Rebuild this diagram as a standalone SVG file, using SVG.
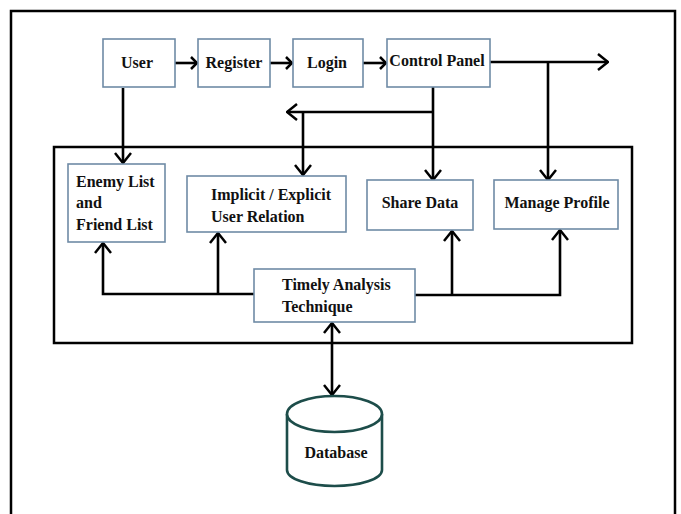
<svg xmlns="http://www.w3.org/2000/svg" width="681" height="514" viewBox="0 0 681 514">
<defs>
<style>
.box{fill:#fff;stroke:#6f8ba6;stroke-width:1.6}
.frame{fill:none;stroke:#000;stroke-width:2.5}
.ln{fill:none;stroke:#000;stroke-width:2.6}
.t{font-family:"Liberation Serif","Times New Roman",serif;font-weight:bold;font-size:16px;fill:#111}
.c{text-anchor:middle}
.db{fill:#fff;stroke:#1d4d4a;stroke-width:2.6}
</style>
<marker id="arr" viewBox="0 0 12 18" refX="11" refY="9" markerWidth="12" markerHeight="18" markerUnits="userSpaceOnUse" orient="auto-start-reverse">
<path d="M1,1 L11,9 L1,17" fill="none" stroke="#000" stroke-width="2.5"/>
</marker>
<marker id="arrs" viewBox="0 0 8 14" refX="7" refY="7" markerWidth="8" markerHeight="14" markerUnits="userSpaceOnUse" orient="auto">
<path d="M1,1 L7,7 L1,13" fill="none" stroke="#000" stroke-width="2.5"/>
</marker>
</defs>
<rect width="681" height="514" fill="#fff"/>
<rect class="frame" x="11" y="11" width="664" height="520"/>
<rect class="frame" x="54" y="147" width="578" height="196"/>

<g id="connectors">
<path class="ln" d="M175,63 H197" marker-end="url(#arrs)"/>
<path class="ln" d="M270,63 H292" marker-end="url(#arrs)"/>
<path class="ln" d="M363,63 H386" marker-end="url(#arrs)"/>
<path class="ln" d="M490,62 H608" marker-end="url(#arr)"/>
<path class="ln" d="M548,62 V180" marker-end="url(#arr)"/>
<path class="ln" d="M433,87 V180" marker-end="url(#arr)"/>
<path class="ln" d="M433,112 H287" marker-end="url(#arr)"/>
<path class="ln" d="M303,112 V175" marker-end="url(#arr)"/>
<path class="ln" d="M123,88 V163" marker-end="url(#arr)"/>
<path class="ln" d="M254,294 H103 V243" marker-end="url(#arr)"/>
<path class="ln" d="M218,294 V233" marker-end="url(#arr)"/>
<path class="ln" d="M415,295 H560 V230" marker-end="url(#arr)"/>
<path class="ln" d="M452,295 V231" marker-end="url(#arr)"/>
<path class="ln" d="M332,323 V395" marker-start="url(#arr)" marker-end="url(#arr)"/>
</g>

<g id="user"><rect class="box" x="103" y="39" width="72" height="48"/><text class="t c" x="137" y="68">User</text></g>
<g id="register"><rect class="box" x="198" y="39" width="72" height="48"/><text class="t c" x="234" y="68">Register</text></g>
<g id="login"><rect class="box" x="293" y="39" width="70" height="48"/><text class="t c" x="327" y="68">Login</text></g>
<g id="control-panel"><rect class="box" x="387" y="39" width="103" height="48"/><text class="t c" x="437" y="66">Control Panel</text></g>

<g id="enemy-friend"><rect class="box" x="68" y="164" width="97" height="78"/>
<text class="t" x="76" y="187">Enemy List</text><text class="t" x="76" y="208">and</text><text class="t" x="76" y="230">Friend List</text></g>
<g id="relation"><rect class="box" x="187" y="176" width="159" height="56"/>
<text class="t" x="211" y="200">Implicit / Explicit</text><text class="t" x="211" y="222">User Relation</text></g>
<g id="share-data"><rect class="box" x="367" y="180" width="106" height="50"/><text class="t c" x="420" y="208">Share Data</text></g>
<g id="manage-profile"><rect class="box" x="494" y="180" width="124" height="49"/><text class="t c" x="557" y="208">Manage Profile</text></g>
<g id="timely"><rect class="box" x="254" y="269" width="161" height="53"/>
<text class="t" x="282" y="290">Timely Analysis</text><text class="t" x="282" y="312">Technique</text></g>

<g id="database">
<path class="db" d="M287,414 V470 A47.5,16 0 0 0 382,470 V414"/>
<ellipse class="db" cx="334.5" cy="414" rx="47.5" ry="18"/>
<text class="t c" x="336" y="458">Database</text>
</g>
</svg>
